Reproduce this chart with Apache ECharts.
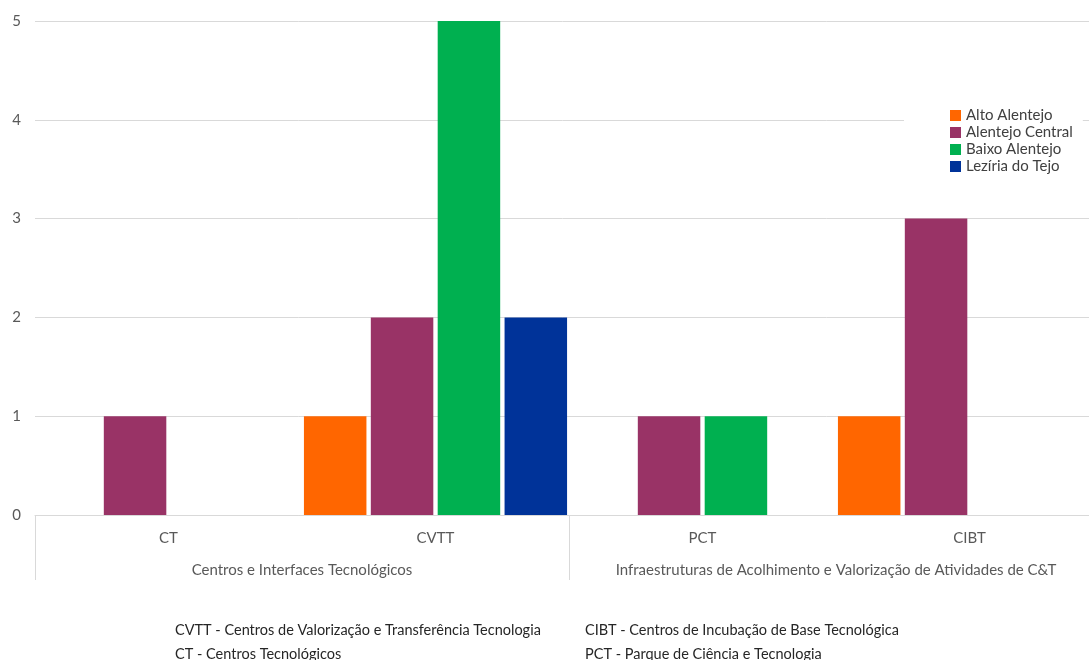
<!DOCTYPE html>
<html>
<head>
<meta charset="utf-8">
<script src="https://cdn.jsdelivr.net/npm/echarts@6/dist/echarts.min.js"></script>
<style>
  html, body { margin: 0; padding: 0; background: #fff; }
  #chart { width: 1089px; height: 660px; }
</style>
</head>
<body>
<div id="chart"></div>
<script>
// Tipologias (nível 1) e respetivos grupos (nível 2)
const categories = ['CT', 'CVTT', 'PCT', 'CIBT'];
const groups = ['Centros e Interfaces Tecnológicos', 'Infraestruturas de Acolhimento e Valorização de Atividades de C&T'];

// Número de entidades por sub-região
const seriesNames = ['Alto Alentejo', 'Alentejo Central', 'Baixo Alentejo', 'Lezíria do Tejo'];
const altoAlentejo = [null, 1, null, 1];
const alentejoCentral = [1, 2, 1, 3];
const baixoAlentejo = [null, 5, 1, null];
const leziriaTejo = [null, 2, null, null];
const seriesColors = ['#FF6600', '#993366', '#00B050', '#003399'];

const yTicks = { min: 0, max: 5, interval: 1 };

// Notas com o significado das siglas
const notesLeft = ['CVTT - Centros de Valorização e Transferência Tecnologia', 'CT - Centros Tecnológicos'];
const notesRight = ['CIBT - Centros de Incubação de Base Tecnológica', 'PCT - Parque de Ciência e Tecnologia'];

const font = 'Lato, "Open Sans", sans-serif';
const values = [altoAlentejo, alentejoCentral, baixoAlentejo, leziriaTejo];

const chart = echarts.init(document.getElementById('chart'));

const noteText = (lines, x) => lines.map((t, i) => ({
  type: 'text',
  x: x,
  y: 630 + i * 24,
  style: { text: t, fill: '#262626', font: '14.5px ' + font, textVerticalAlign: 'middle' }
}));

chart.setOption({
  animation: false,
  backgroundColor: '#fff',
  // the plot area runs past the right edge of the canvas
  grid: { left: 35, top: 21, right: -14, bottom: 145, outerBoundsMode: 'none', containLabel: false },
  legend: {
    orient: 'vertical',
    left: 904,
    top: 99,
    padding: [8, 10, 8, 46],
    backgroundColor: '#fff',
    itemWidth: 11,
    itemHeight: 11,
    itemGap: 0,
    icon: 'rect',
    textStyle: { color: '#404040', fontSize: 15, lineHeight: 17, fontFamily: font },
    data: seriesNames
  },
  xAxis: [
    {
      type: 'category',
      data: categories,
      position: 'bottom',
      axisLine: { lineStyle: { color: '#d9d9d9', width: 1 } },
      axisTick: { show: false },
      axisLabel: { color: '#595959', fontSize: 15, fontFamily: font, margin: 16, interval: 0 },
      z: 3
    },
    {
      type: 'category',
      data: groups,
      position: 'bottom',
      axisLine: { show: false },
      axisTick: { show: true, interval: 0, length: 65, lineStyle: { color: '#d9d9d9', width: 1 } },
      axisLabel: { color: '#595959', fontSize: 15, fontFamily: font, margin: 48, interval: 0, hideOverlap: false }
    }
  ],
  yAxis: {
    type: 'value',
    min: yTicks.min,
    max: yTicks.max,
    interval: yTicks.interval,
    axisLine: { show: false },
    axisTick: { show: false },
    axisLabel: { color: '#595959', fontSize: 15, fontFamily: font, margin: 14 },
    splitLine: { lineStyle: { color: '#d9d9d9', width: 1 } }
  },
  series: seriesNames.map((name, i) => ({
    name,
    type: 'bar',
    xAxisIndex: 0,
    data: values[i],
    barWidth: 62.5,
    barGap: '7%',
    barCategoryGap: '1.5%',
    itemStyle: { color: seriesColors[i] }
  })),
  graphic: [...noteText(notesLeft, 175), ...noteText(notesRight, 585)]
});
</script>
</body>
</html>
